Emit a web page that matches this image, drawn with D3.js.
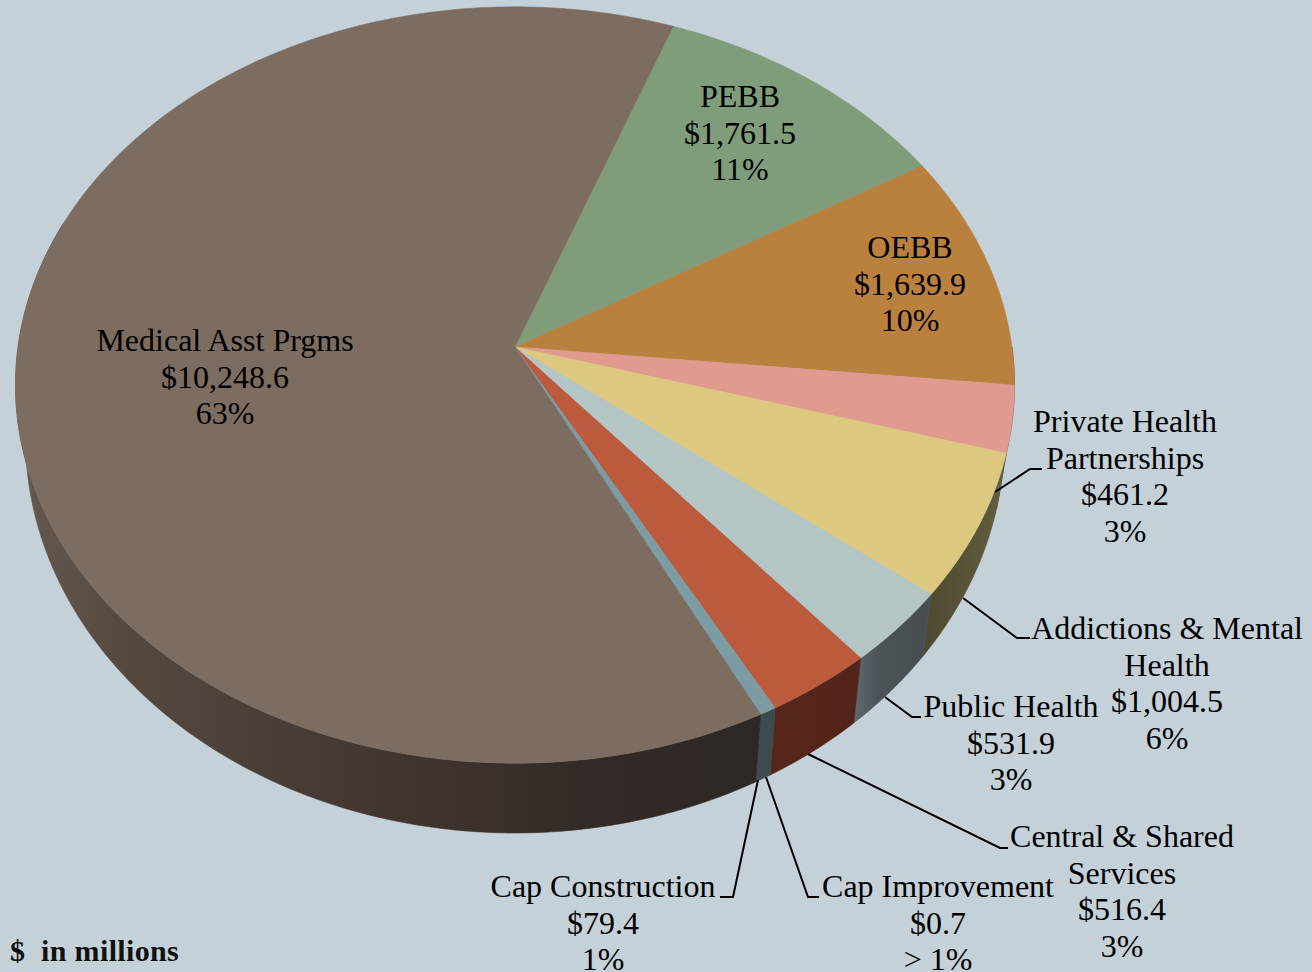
<!DOCTYPE html>
<html><head><meta charset="utf-8">
<script src="https://cdn.jsdelivr.net/npm/d3@7/dist/d3.min.js"></script>
<style>html,body{margin:0;padding:0;background:#c5d1d8;overflow:hidden}svg{display:block}</style>
</head><body><svg id="c" width="1312" height="972"></svg>
<script>
const categories = ["PEBB","OEBB","Private Health Partnerships","Addictions & Mental Health","Public Health","Central & Shared Services","Cap Construction","Cap Improvement","Medical Asst Prgms"];
const values = [1761.5,1639.9,461.2,1004.5,531.9,516.4,79.4,0.7,10248.6];
const percents = ["11%","10%","3%","6%","3%","3%","1%","> 1%","63%"];
const valueLabels = ["$1,761.5","$1,639.9","$461.2","$1,004.5","$531.9","$516.4","$79.4","$0.7","$10,248.6"];
const nameLines = [["PEBB"],["OEBB"],["Private Health","Partnerships"],["Addictions & Mental","Health"],["Public Health"],["Central & Shared","Services"],["Cap Construction"],["Cap Improvement"],["Medical Asst Prgms"]];
const topColors = ["#7f9d7a","#b9803e","#e09a8f","#dcc97f","#b3c5c5","#bb5a3d","#7d9ba3","#7d9ba3","#7d6c60"];
const sideStops = [
  [[0,"#4d5f4a"],[1,"#4d5f4a"]],
  [[0,"#6e4c25"],[1,"#6e4c25"]],
  [[0,"#5f4a45"],[1,"#5f4a45"]],
  [[0,"#4d4930"],[1,"#635e3f"]],
  [[0,"#5e6b71"],[.3,"#4c5458"],[1,"#474d50"]],
  [[0,"#56261a"],[1,"#53241a"]],
  [[0,"#3d4d51"],[1,"#3a4a4d"]],
  [[0,"#3d4d51"],[1,"#3a4a4d"]],
  [[0,"#665a50"],[.15,"#54483f"],[.3,"#4c4139"],[.55,"#3e342e"],[.8,"#312a26"],[1,"#2e2824"]]
];

const labelPos = [[740,107],[910,258],[1125,432],[1167,639],[1011,717],[1122,847],[603,897],[938,897],[225,351]];
const leaders = [
  [[995,492],[1030,469],[1042,469]],
  [[963,598],[1017,638],[1030,638]],
  [[885,697],[912,717],[921,717]],
  [[808,754],[1000,848],[1008,848]],
  [[758,780],[733,897],[720,897]],
  [[766,777],[808,897],[819,897]]
];

const svg = d3.select("#c");
const defs = svg.append("defs");
const CX=515, APEX=347, A=497, B=0.1005, C=374.4;
const START=20.4*Math.PI/180;
function proj(theta,sx,sy,y0){
  const u=Math.sin(theta), v=Math.cos(theta), d=1+B*v;
  return [CX+A*sx*u/d, y0-C*sy*v/d];
}
const topP=t=>proj(t,1,1,APEX), botP=t=>proj(t,0.98,1.045,398);
const arcs=d3.pie().sort(null).value(d=>d).startAngle(START).endAngle(START+2*Math.PI)(values);
const line=d3.line();
function samples(a,b){const n=Math.max(2,Math.ceil((b-a)/0.01));return d3.range(n+1).map(i=>a+(b-a)*i/n);}

svg.append("rect").attr("width",1312).attr("height",972).attr("fill","#c5d1d8");

const gSide=svg.append("g");
const lo=90*Math.PI/180, hi=290*Math.PI/180;
arcs.forEach((s,i)=>{
  const a=Math.max(s.startAngle,lo), b=Math.min(s.endAngle,hi);
  if(b<=a) return;
  const ts=samples(a,b);
  const pts=ts.map(topP).concat(ts.slice().reverse().map(botP));
  const id="side"+i;
  const xs=pts.map(p=>p[0]);
  const gr=defs.append("linearGradient").attr("id",id).attr("gradientUnits","userSpaceOnUse")
    .attr("x1",d3.min(xs)).attr("x2",d3.max(xs)).attr("y1",0).attr("y2",0);
  sideStops[i].forEach(k=>gr.append("stop").attr("offset",k[0]).attr("stop-color",k[1]));
  gSide.append("path").attr("d",line(pts)+"Z").attr("fill",`url(#${id})`).attr("stroke",`url(#${id})`).attr("stroke-width",.6);
});

const gTop=svg.append("g");
arcs.forEach((s,i)=>{
  const pts=[[CX,APEX]].concat(samples(s.startAngle,s.endAngle).map(topP));
  gTop.append("path").attr("d",line(pts)+"Z").attr("fill",topColors[i]).attr("stroke",topColors[i]).attr("stroke-width",.5);
});

svg.append("g").selectAll("path").data(leaders).join("path")
  .attr("d",d=>line(d)).attr("fill","none").attr("stroke","#000").attr("stroke-width",2);

const FONT="'Liberation Serif',serif", FS=32, LH=36.6;
const gText=svg.append("g").attr("font-family",FONT).attr("font-size",FS).attr("fill","#000").attr("text-anchor","middle");
categories.forEach((c,i)=>{
  const t=gText.append("text");
  const lines=nameLines[i].concat([valueLabels[i],percents[i]]);
  lines.forEach((l,k)=>t.append("tspan").attr("x",labelPos[i][0]).attr("y",labelPos[i][1]+k*LH).text(l));
});
svg.append("text").attr("x",10).attr("y",961).attr("font-family",FONT).attr("font-size",30).attr("font-weight",700).attr("letter-spacing",0.35).attr("fill","#111").attr("xml:space","preserve").text("$  in millions");
</script></body></html>
